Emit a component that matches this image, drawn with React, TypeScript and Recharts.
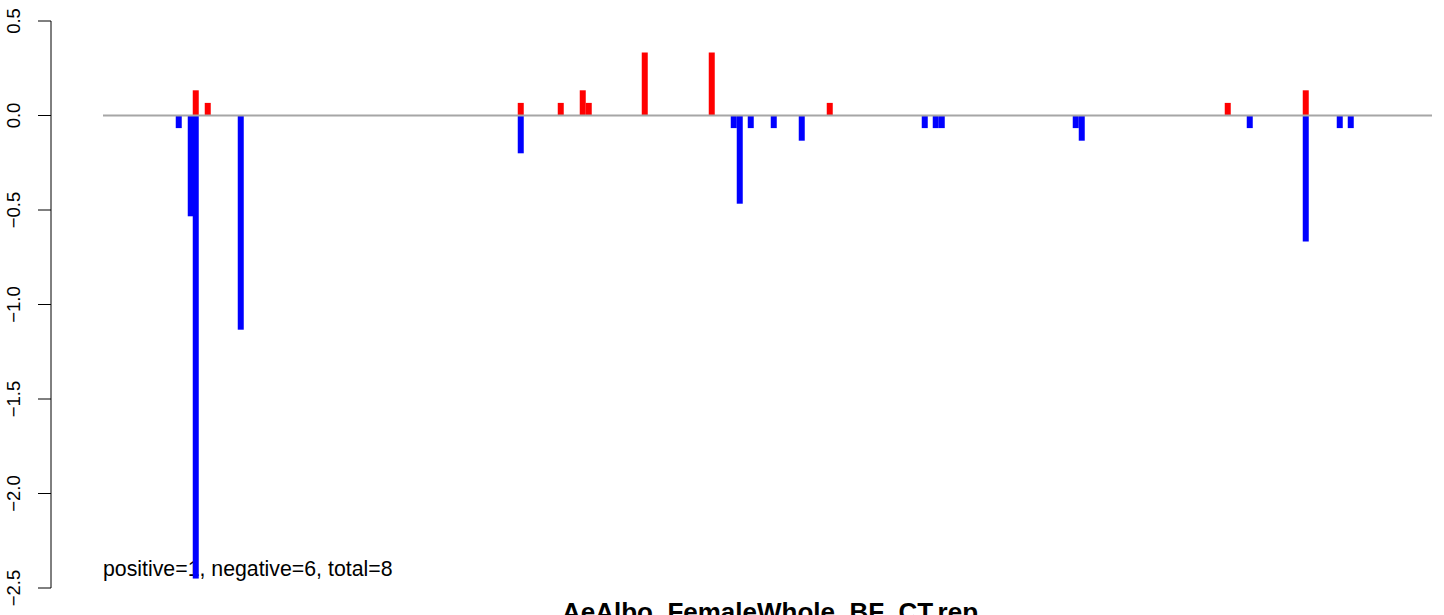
import React from "react";
import { ComposedChart, Bar, XAxis, YAxis, ReferenceLine } from "recharts";

// Positions along the sequence (arbitrary units, 0 .. 1329)
const positions = [76, 88, 93, 105, 138, 418, 458, 480, 486, 542, 609, 631, 637, 648, 671, 699, 727, 822, 833, 839, 973, 979, 1125, 1147, 1203, 1237, 1248];
// Positive (red) values
const positiveValues = [0, 0, 0.1333, 0.0667, 0, 0.0667, 0.0667, 0.1333, 0.0667, 0.3333, 0.3333, 0, 0, 0, 0, 0, 0.0667, 0, 0, 0, 0, 0, 0.0667, 0, 0.1333, 0, 0];
// Negative (blue) values
const negativeValues = [-0.0667, -0.5333, -2.45, 0, -1.1333, -0.2, 0, 0, 0, 0, 0, -0.0667, -0.4667, -0.0667, -0.0667, -0.1333, 0, -0.0667, -0.0667, -0.0667, -0.0667, -0.1333, 0, -0.0667, -0.6667, -0.0667, -0.0667];

const yTicks = [-2.5, -2.0, -1.5, -1.0, -0.5, 0.0, 0.5];
const xStart = 0;
const xEnd = 1329;
const title = "AeAlbo_FemaleWhole_BF_CT.rep";
const annotation = "positive=1, negative=6, total=8";

const data = positions.map((p, i) => ({
  pos: p,
  up: positiveValues[i] || null,
  down: negativeValues[i] || null,
}));

const fmt = (v: number) => {
  const s = Math.abs(v).toFixed(1);
  return v < 0 ? "\u2212" + s : s;
};

const YTick = (props: any) => {
  const { y, payload } = props;
  return (
    <text
      x={19.5}
      y={y}
      transform={`rotate(-90, 19.5, ${y})`}
      textAnchor="middle"
      fontFamily="Liberation Sans, Arial, sans-serif"
      fontSize={18.5}
      fill="#000"
    >
      {fmt(payload.value)}
    </text>
  );
};

const BAR_W = 6;
const makeShape = (color: string) => (props: any) => {
  const { x, y, width, height } = props;
  if (x == null || y == null || !height) return <g />;
  const cx = x + width / 2;
  const top = Math.min(y, y + height);
  const h = Math.abs(height);
  return <rect x={cx - BAR_W / 2} y={top} width={BAR_W} height={h} fill={color} />;
};

export default function App() {
  return (
    <div style={{ position: "fixed", left: 0, top: 0, width: 1444, height: 615, overflow: "hidden", background: "#fff" }}>
      <ComposedChart
        width={1444}
        height={615}
        data={data}
        stackOffset="sign"
        margin={{ top: 21, right: 12, bottom: 27, left: 0 }}
      >
        <XAxis type="number" dataKey="pos" domain={[-52, 1329]} ticks={[-52, 1329]} hide />
        <YAxis
          type="number"
          domain={[-2.5, 0.5]}
          ticks={yTicks}
          width={51}
          axisLine={{ stroke: "#000", strokeWidth: 1 }}
          tickLine={{ stroke: "#000", strokeWidth: 1 }}
          tickSize={13}
          tick={<YTick />}
          interval={0}
          allowDataOverflow
        />
        <Bar dataKey="up" stackId="s" fill="#FF0000" barSize={6} shape={makeShape("#FF0000")} isAnimationActive={false} />
        <Bar dataKey="down" stackId="s" fill="#0000FF" barSize={6} shape={makeShape("#0000FF")} isAnimationActive={false} />
        <ReferenceLine
          segment={[{ x: xStart, y: 0 }, { x: xEnd, y: 0 }]}
          stroke="#A6A6A6"
          strokeWidth={2}
        />
        <text
          x={103}
          y={576}
          fontFamily="Liberation Sans, Arial, sans-serif"
          fontSize={21.3}
          fill="#000"
        >
          {annotation}
        </text>
        <text
          x={770}
          y={621}
          textAnchor="middle"
          fontFamily="Liberation Sans, Arial, sans-serif"
          fontWeight="bold"
          fontSize={26}
          fill="#000"
        >
          {title}
        </text>
      </ComposedChart>
    </div>
  );
}
